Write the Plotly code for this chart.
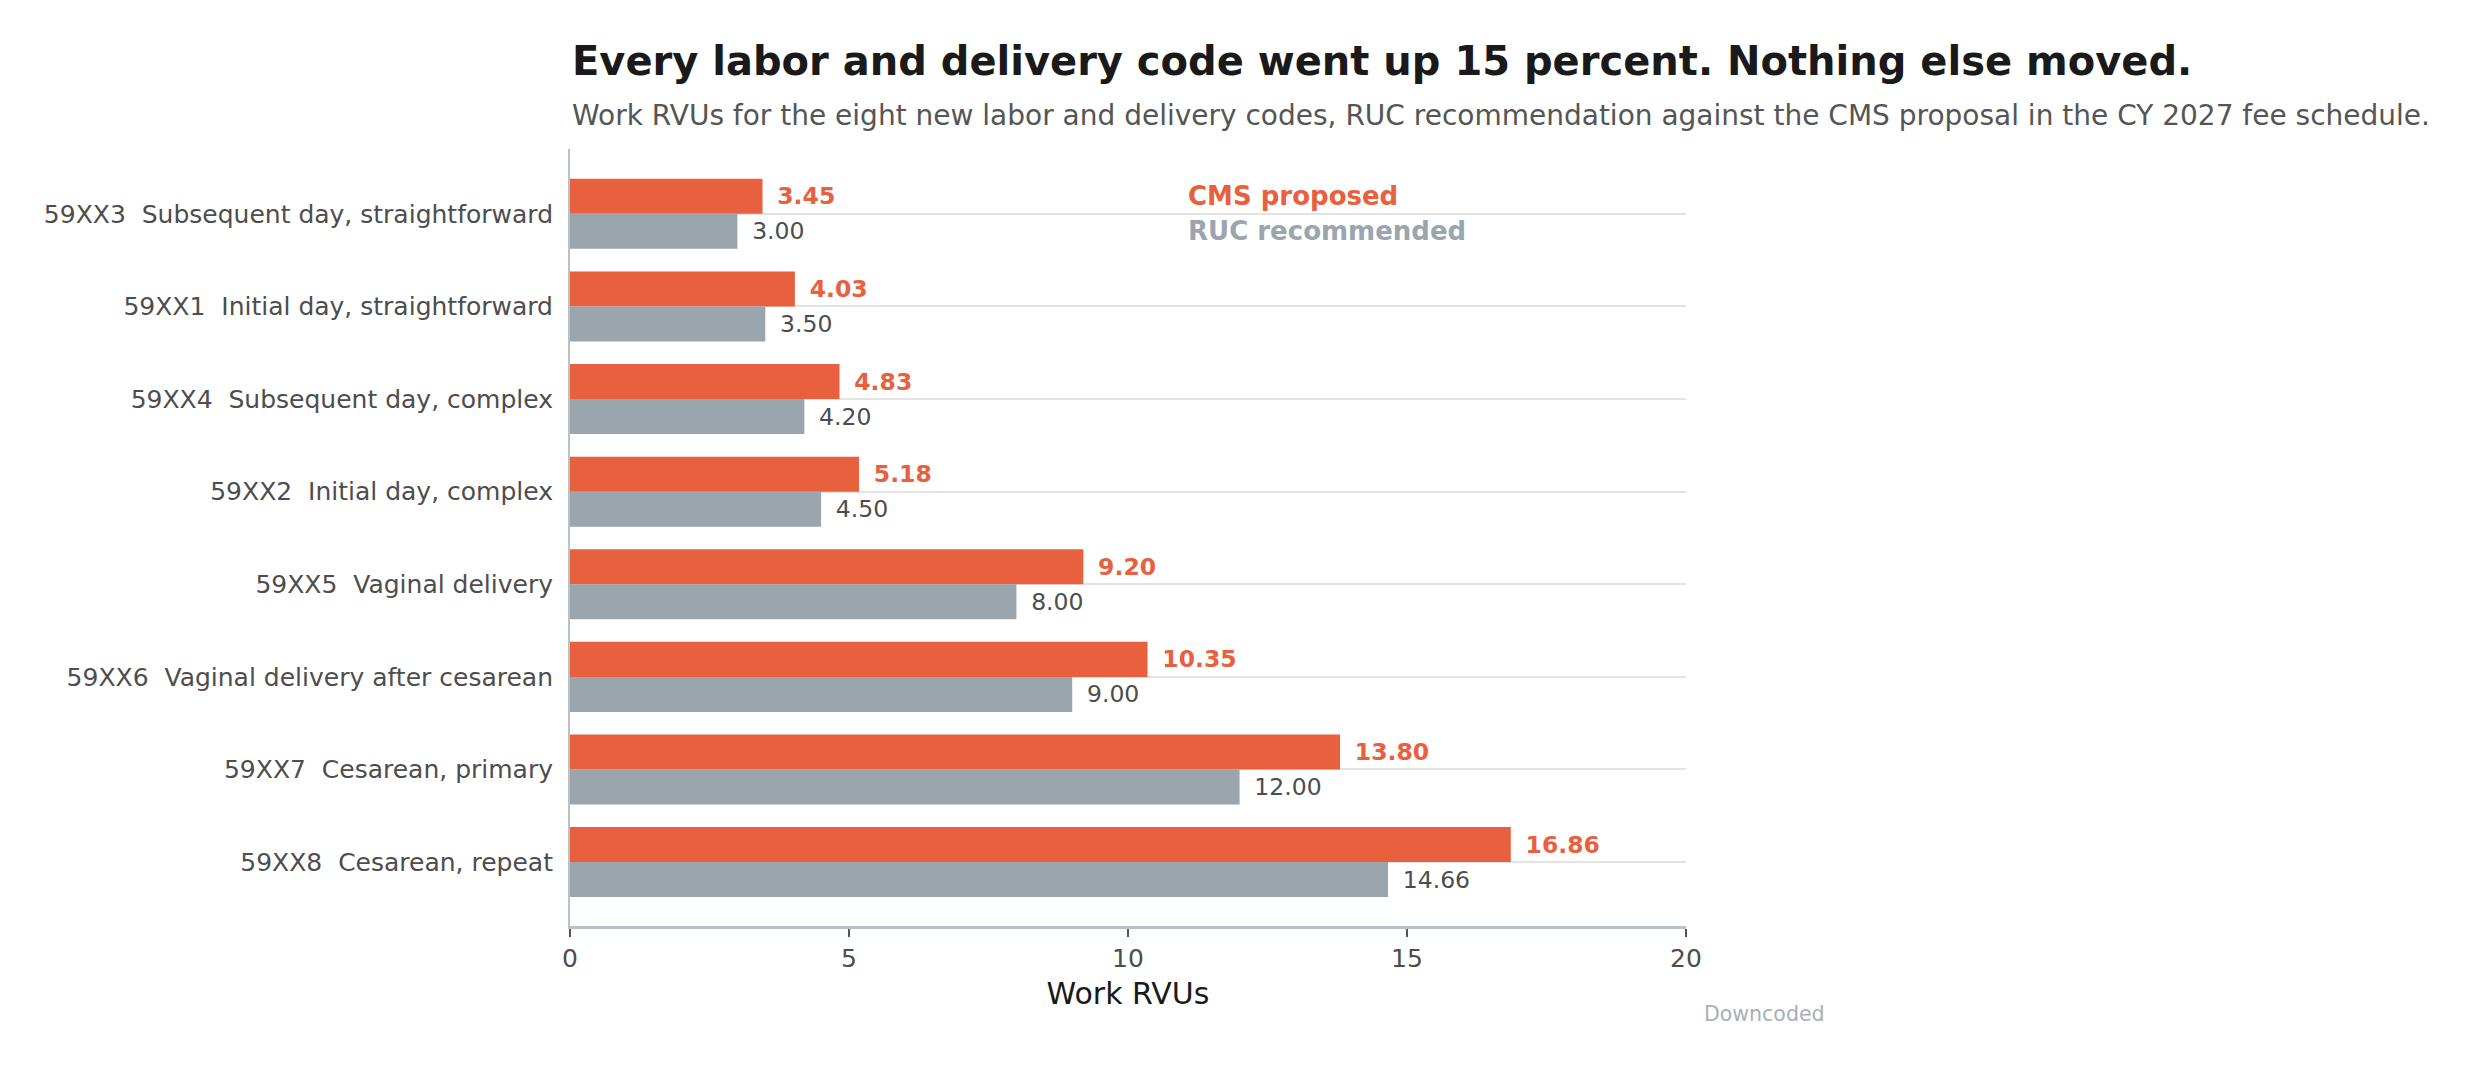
import plotly.graph_objects as go

# data
codes = [
    "59XX3  Subsequent day, straightforward",
    "59XX1  Initial day, straightforward",
    "59XX4  Subsequent day, complex",
    "59XX2  Initial day, complex",
    "59XX5  Vaginal delivery",
    "59XX6  Vaginal delivery after cesarean",
    "59XX7  Cesarean, primary",
    "59XX8  Cesarean, repeat",
]
cms_proposed = [3.45, 4.03, 4.83, 5.18, 9.20, 10.35, 13.80, 16.86]
ruc_recommended = [3.00, 3.50, 4.20, 4.50, 8.00, 9.00, 12.00, 14.66]
x_ticks = [0, 5, 10, 15, 20]

ORANGE = "#E8603E"
GRAY = "#9BA5AE"
FONT = "DejaVu Sans"

fig = go.Figure()

fig.add_trace(
    go.Bar(
        y=codes,
        x=cms_proposed,
        orientation="h",
        name="CMS proposed",
        marker=dict(color=ORANGE, line=dict(width=0)),
        text=["\u2002" + f"{v:.2f}" for v in cms_proposed],
        textposition="outside",
        outsidetextfont=dict(family=FONT, size=23.5, color=ORANGE, weight="bold"),
        cliponaxis=False,
        hoverinfo="skip",
    )
)
fig.add_trace(
    go.Bar(
        y=codes,
        x=ruc_recommended,
        orientation="h",
        name="RUC recommended",
        marker=dict(color=GRAY, line=dict(width=0)),
        text=["\u2002" + f"{v:.2f}" for v in ruc_recommended],
        textposition="outside",
        outsidetextfont=dict(family=FONT, size=23.5, color="#4d4d4d"),
        cliponaxis=False,
        hoverinfo="skip",
    )
)

fig.update_layout(
    width=2485,
    height=1070,
    barmode="group",
    bargap=0.244,
    bargroupgap=0,
    showlegend=False,
    plot_bgcolor="white",
    paper_bgcolor="white",
    font=dict(family=FONT, color="#4d4d4d"),
    margin=dict(l=562, r=807, t=141, b=152, autoexpand=False),
)

fig.update_xaxes(
    range=[0, 20],
    tickvals=x_ticks,
    showgrid=False,
    zeroline=False,
    showline=True,
    linecolor="#b8c2cb",
    linewidth=2.5,
    ticks="outside",
    ticklen=8,
    tickwidth=2,
    tickcolor="#555555",
    tickfont=dict(size=25, color="#4d4d4d"),
    title=dict(text="Work RVUs", font=dict(size=30, color="#1a1a1a"), standoff=12),
)

fig.update_yaxes(
    type="category",
    range=[7.69, -0.70],
    showgrid=True,
    gridcolor="#e3e3e3",
    gridwidth=2,
    showline=True,
    linecolor="#b8c2cb",
    linewidth=2,
    ticks="",
    ticklabelstandoff=10,
    tickfont=dict(size=25, color="#4d4d4d"),
)

# title and subtitle
fig.add_annotation(
    text="<b>Every labor and delivery code went up 15 percent. Nothing else moved.</b>",
    xref="paper", yref="paper", x=0, y=1.113,
    xanchor="left", yanchor="middle", showarrow=False,
    font=dict(size=40, color="#1a1a1a"),
)
fig.add_annotation(
    text="Work RVUs for the eight new labor and delivery codes, RUC recommendation against the CMS proposal in the CY 2027 fee schedule.",
    xref="paper", yref="paper", x=0, y=1.043,
    xanchor="left", yanchor="middle", showarrow=False,
    font=dict(size=28, color="#555555"),
)

# direct labels instead of a legend
fig.add_annotation(
    text="<b>CMS proposed</b>",
    xref="paper", yref="paper", x=0.5518, y=0.9395,
    xanchor="left", yanchor="middle", showarrow=False,
    font=dict(size=26, color=ORANGE),
)
fig.add_annotation(
    text="<b>RUC recommended</b>",
    xref="paper", yref="paper", x=0.5518, y=0.8944,
    xanchor="left", yanchor="middle", showarrow=False,
    font=dict(size=26, color=GRAY),
)
fig.add_annotation(
    text="Downcoded",
    xref="paper", yref="paper", x=1.0143, y=-0.1131,
    xanchor="left", yanchor="middle", showarrow=False,
    font=dict(size=20.5, color="#a6b0b8"),
)

fig.write_html("out.html")
